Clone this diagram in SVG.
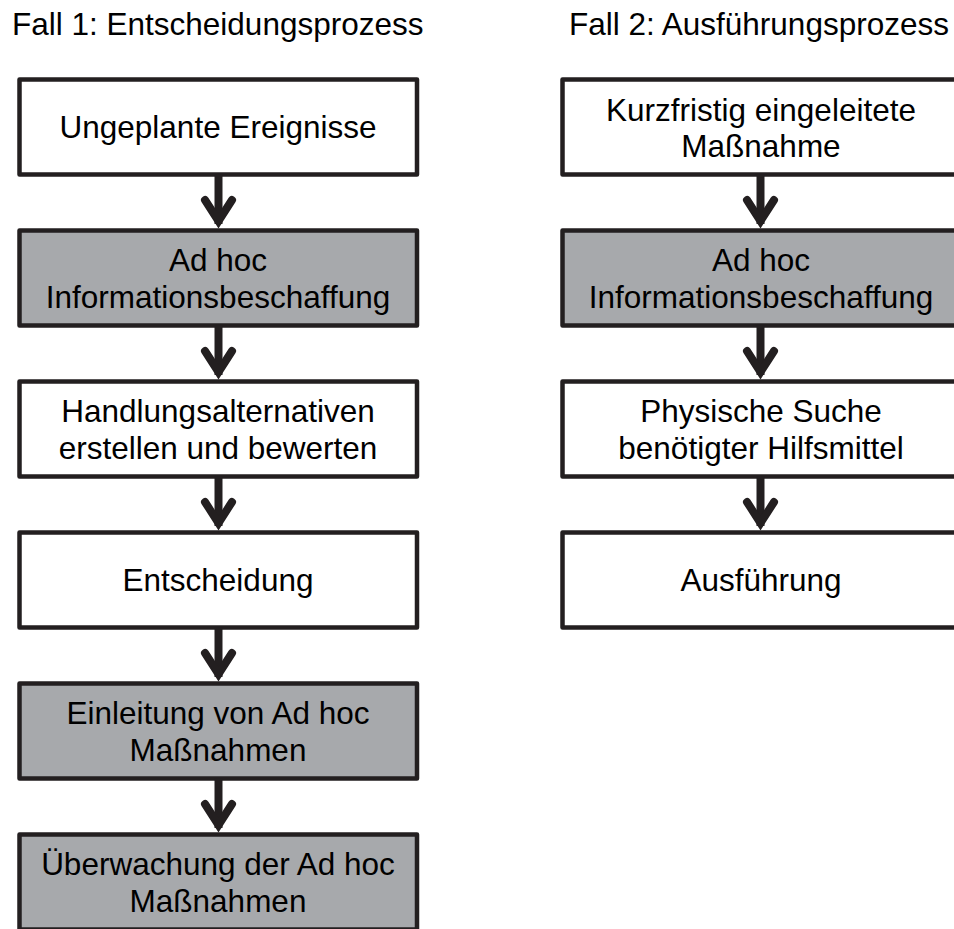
<svg xmlns="http://www.w3.org/2000/svg" width="954" height="929" viewBox="0 0 954 929">
  <style>
    .box { stroke: #231f20; stroke-width: 4.5; stroke-linejoin: round; }
    .plain { fill: #ffffff; }
    .shade { fill: #a7a9ac; }
    .lbl { font-family: "Liberation Sans", Arial, sans-serif; font-size: 31.5px; fill: #000000; text-anchor: middle; }
    .title { font-family: "Liberation Sans", Arial, sans-serif; font-size: 31.5px; fill: #000000; }
    .shaft { stroke: #231f20; stroke-width: 8; fill: none; }
    .head { stroke: #231f20; stroke-width: 8; fill: none; stroke-linecap: round; stroke-linejoin: miter; stroke-miterlimit: 4; }
  </style>
  <rect width="954" height="929" fill="#ffffff"/>

  <text class="title" x="12" y="35">Fall 1: Entscheidungsprozess</text>
  <text class="title" x="569" y="35">Fall 2: Ausführungsprozess</text>

  <!-- Case 1: decision process -->
  <g id="l1">
    <rect class="box plain" x="19.5" y="79.5" width="397.5" height="95"/>
    <text class="lbl" x="218" y="138">Ungeplante Ereignisse</text>
  </g>
  <g id="l2">
    <rect class="box shade" x="19.5" y="230.5" width="397.5" height="95"/>
    <text class="lbl" x="218" y="270.7">Ad hoc</text>
    <text class="lbl" x="218" y="308.3">Informationsbeschaffung</text>
  </g>
  <g id="l3">
    <rect class="box plain" x="19.5" y="381.5" width="397.5" height="95"/>
    <text class="lbl" x="218" y="421.7">Handlungsalternativen</text>
    <text class="lbl" x="218" y="459.3">erstellen und bewerten</text>
  </g>
  <g id="l4">
    <rect class="box plain" x="19.5" y="532.5" width="397.5" height="95"/>
    <text class="lbl" x="218" y="591">Entscheidung</text>
  </g>
  <g id="l5">
    <rect class="box shade" x="19.5" y="683.5" width="397.5" height="95"/>
    <text class="lbl" x="218" y="723.7">Einleitung von Ad hoc</text>
    <text class="lbl" x="218" y="761.3">Maßnahmen</text>
  </g>
  <g id="l6">
    <rect class="box shade" x="19.5" y="834.5" width="397.5" height="95"/>
    <text class="lbl" x="218" y="874.7">Überwachung der Ad hoc</text>
    <text class="lbl" x="218" y="912.3">Maßnahmen</text>
  </g>

  <!-- Case 2: execution process -->
  <g id="r1">
    <rect class="box plain" x="562.5" y="79.5" width="397.5" height="95"/>
    <text class="lbl" x="761" y="121.2">Kurzfristig eingeleitete</text>
    <text class="lbl" x="761" y="157">Maßnahme</text>
  </g>
  <g id="r2">
    <rect class="box shade" x="562.5" y="230.5" width="397.5" height="95"/>
    <text class="lbl" x="761" y="270.7">Ad hoc</text>
    <text class="lbl" x="761" y="308.3">Informationsbeschaffung</text>
  </g>
  <g id="r3">
    <rect class="box plain" x="562.5" y="381.5" width="397.5" height="95"/>
    <text class="lbl" x="761" y="421.7">Physische Suche</text>
    <text class="lbl" x="761" y="459.3">benötigter Hilfsmittel</text>
  </g>
  <g id="r4">
    <rect class="box plain" x="562.5" y="532.5" width="397.5" height="95"/>
    <text class="lbl" x="761" y="591">Ausführung</text>
  </g>

  <!-- Connectors -->
  <g id="connectors">
    <g transform="translate(218.5,0)">
      <line class="shaft" x1="0" y1="174.5" x2="0" y2="224"/>
      <polyline class="head" points="-13.5,200 0,221 13.5,200"/>
      <line class="shaft" x1="0" y1="325.5" x2="0" y2="375"/>
      <polyline class="head" points="-13.5,351 0,372 13.5,351"/>
      <line class="shaft" x1="0" y1="476.5" x2="0" y2="526"/>
      <polyline class="head" points="-13.5,502 0,523 13.5,502"/>
      <line class="shaft" x1="0" y1="627.5" x2="0" y2="677"/>
      <polyline class="head" points="-13.5,653 0,674 13.5,653"/>
      <line class="shaft" x1="0" y1="778.5" x2="0" y2="828"/>
      <polyline class="head" points="-13.5,804 0,825 13.5,804"/>
    </g>
    <g transform="translate(760.5,0)">
      <line class="shaft" x1="0" y1="174.5" x2="0" y2="224"/>
      <polyline class="head" points="-13.5,200 0,221 13.5,200"/>
      <line class="shaft" x1="0" y1="325.5" x2="0" y2="375"/>
      <polyline class="head" points="-13.5,351 0,372 13.5,351"/>
      <line class="shaft" x1="0" y1="476.5" x2="0" y2="526"/>
      <polyline class="head" points="-13.5,502 0,523 13.5,502"/>
    </g>
  </g>
</svg>
